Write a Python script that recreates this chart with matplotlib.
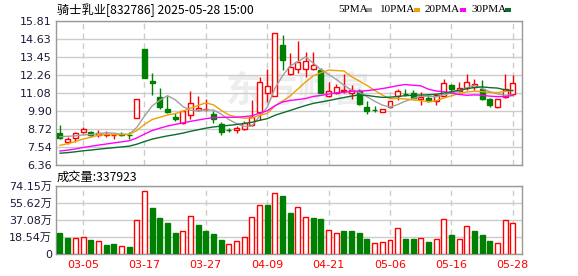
import matplotlib
matplotlib.use("Agg")
import matplotlib.pyplot as plt
from matplotlib.patches import Rectangle
import numpy as np
import pandas as pd

# trading days shown
dates = ["02-28", "03-03", "03-04", "03-05", "03-06", "03-07", "03-10", "03-11", "03-12", "03-13",
         "03-14", "03-17", "03-18", "03-19", "03-20", "03-21", "03-24", "03-25", "03-26", "03-27",
         "03-28", "03-31", "04-01", "04-02", "04-03", "04-07", "04-08", "04-09", "04-10", "04-11",
         "04-14", "04-15", "04-16", "04-17", "04-18", "04-21", "04-22", "04-23", "04-24", "04-25",
         "04-28", "04-29", "04-30", "05-06", "05-07", "05-08", "05-09", "05-12", "05-13", "05-14",
         "05-15", "05-16", "05-19", "05-20", "05-21", "05-22", "05-23", "05-26", "05-27", "05-28"]

opens = [8.44, 7.89, 8.11, 8.53, 8.53, 8.35, 8.35, 8.32, 8.38, 8.36,
         9.47, 13.97, 11.87, 10.80, 10.06, 9.53, 9.10, 9.66, 9.98, 10.02,
         9.69, 9.03, 8.66, 8.64, 8.74, 8.99, 9.82, 11.06, 10.91, 14.26,
         12.33, 12.64, 12.64, 12.64, 12.59, 10.89, 11.11, 11.22, 11.11, 11.24,
         10.15, 9.96, 9.84, 10.15, 10.89, 11.04, 11.09, 10.69, 10.78, 10.58,
         10.89, 11.61, 11.22, 11.39, 11.50, 11.35, 10.67, 10.19, 10.80, 11.00]
highs = [8.99, 8.22, 8.50, 8.85, 8.60, 8.66, 8.60, 8.44, 8.55, 8.55,
         10.72, 13.99, 12.42, 11.41, 10.89, 9.80, 9.93, 11.24, 10.91, 10.69,
         9.92, 9.20, 8.77, 8.92, 9.22, 10.63, 12.16, 12.64, 15.00, 14.89,
         13.69, 14.52, 13.76, 13.78, 12.75, 11.83, 11.68, 12.33, 11.61, 11.35,
         10.56, 10.21, 10.06, 10.58, 11.33, 11.35, 11.28, 11.17, 10.93, 11.02,
         11.98, 11.68, 11.81, 12.33, 11.98, 11.94, 10.78, 10.69, 12.33, 12.26]
lows = [8.05, 7.74, 7.90, 8.44, 8.18, 8.22, 8.20, 8.09, 8.24, 8.07,
        9.45, 12.05, 10.95, 10.02, 9.75, 9.25, 9.08, 9.40, 9.92, 9.92,
        9.10, 8.33, 8.53, 8.44, 8.66, 8.92, 9.31, 10.50, 10.91, 12.59,
        12.27, 12.42, 12.12, 12.62, 11.08, 10.80, 11.05, 11.11, 10.67, 10.30,
        9.71, 9.84, 9.82, 10.13, 10.61, 10.87, 10.67, 10.28, 10.52, 10.32,
        10.80, 11.24, 11.13, 11.28, 11.28, 10.63, 10.19, 10.12, 10.78, 10.98]
closes = [8.15, 8.07, 8.48, 8.74, 8.33, 8.44, 8.40, 8.34, 8.36, 8.33,
          10.69, 12.09, 11.72, 10.19, 9.86, 9.36, 9.90, 10.43, 10.10, 10.06,
          9.36, 8.55, 8.63, 8.79, 9.12, 9.49, 11.79, 11.54, 15.00, 13.25,
          12.77, 13.12, 13.16, 12.92, 11.11, 11.24, 11.46, 11.28, 11.25, 10.36,
          9.88, 9.94, 10.04, 10.56, 11.20, 11.00, 10.78, 10.82, 10.58, 10.93,
          11.72, 11.36, 11.40, 11.79, 11.66, 10.69, 10.32, 10.67, 11.37, 11.72]
# volume in 万 shares
volumes = [23.3, 17.4, 17.1, 18.2, 15.3, 14.2, 9.8, 10.9, 8.4, 7.3,
           37.1, 68.4, 49.8, 39.3, 33.8, 23.3, 25.1, 41.1, 31.6, 25.1,
           21.8, 15.3, 10.5, 14.2, 18.2, 40.0, 53.1, 53.1, 66.2, 63.3,
           44.7, 50.9, 40.0, 38.9, 37.8, 25.8, 22.6, 25.1, 25.1, 22.6,
           16.4, 11.6, 12.7, 14.9, 28.0, 16.4, 16.4, 17.1, 12.7, 16.0,
           37.8, 20.4, 16.0, 30.2, 25.1, 20.4, 14.2, 11.6, 36.8, 33.7923]
# closes before the window (estimated, needed for the moving averages)
prior_closes = [6.90, 6.85, 6.80, 6.88, 6.82, 6.78, 6.85, 6.90, 6.86, 6.84,
                6.88, 6.92, 6.85, 6.80, 6.86, 6.95, 6.90, 6.98, 6.92, 6.96,
                7.00, 7.05, 7.12, 7.10, 7.18, 7.90, 8.35, 8.40, 8.25]

price_ticks = [6.36, 7.54, 8.72, 9.90, 11.08, 12.26, 13.45, 14.63, 15.81]
vol_ticks = [0, 18.54, 37.08, 55.62, 74.15]
vol_labels = ["0", "18.54万", "37.08万", "55.62万", "74.15万"]
ma_periods = [5, 10, 20, 30]
ma_colors = ["#a0a0a0", "#f0a000", "#ff00ff", "#0b6e2e"]

RED = "#ff0000"
GREEN = "#008000"
GRID = "#cccccc"
EDGE = "#999999"
LABEL = "#1a1a3a"

n = len(closes)
x = np.arange(n)
o = np.array(opens); c = np.array(closes); h = np.array(highs); l = np.array(lows)
up = c >= o
prev = np.r_[prior_closes[-1], c[:-1]]
vol_up = c >= prev

all_close = pd.Series(prior_closes + closes)
mas = {p: all_close.rolling(p).mean().values[-n:] for p in ma_periods}

fig = plt.figure(figsize=(5.78, 2.76), dpi=100)
W, H = 578, 276
def fx(px): return px / W
def fy(py): return 1 - py / H

ax = fig.add_axes([fx(56), fy(165), fx(522) - fx(56), fy(21) - fy(165)])
axv = fig.add_axes([fx(56), fy(254), fx(522) - fx(56), fy(186) - fy(254)])

tick_idx = list(range(3, n, 8))
xlim = (-0.52, n + 0.2)

for a in (ax, axv):
    a.set_xlim(*xlim)
    for s in a.spines.values():
        s.set_color(EDGE)
        s.set_linewidth(1)
    a.set_xticks(tick_idx)
    a.xaxis.grid(True, color=GRID, linestyle=(0, (4, 3)), linewidth=1)
    a.yaxis.grid(True, color=GRID, linewidth=1)
    a.set_axisbelow(True)
    a.tick_params(length=0, labelsize=8, labelcolor=LABEL, pad=3)

# watermark
ax.text(31, 11.2, "东方财富", fontsize=26, color="#ededed", ha="center", va="center",
        family=["Noto Sans CJK SC", "DejaVu Sans"], fontweight="bold", zorder=0)

# price panel
ax.set_ylim(price_ticks[0], price_ticks[-1])
ax.set_yticks(price_ticks)
ax.set_yticklabels([f"{t:.2f}" for t in price_ticks])
ax.set_xticklabels([])

wick_col = np.where(up, RED, GREEN)
ax.vlines(x, l, h, colors=wick_col, linewidth=1, zorder=2)
body_bot = np.minimum(o, c)
body_h = np.maximum(np.abs(c - o), 0.03)
ax.bar(x[up], body_h[up], bottom=body_bot[up], width=0.65, facecolor="white",
       edgecolor=RED, linewidth=1, zorder=3)
ax.bar(x[~up], body_h[~up], bottom=body_bot[~up], width=0.65, facecolor=GREEN,
       edgecolor=GREEN, linewidth=1, zorder=3)

for p, col in zip(ma_periods, ma_colors):
    ax.plot(x, mas[p], color=col, linewidth=1, zorder=4)

# volume panel
v = np.array(volumes)
axv.set_ylim(0, vol_ticks[-1])
axv.set_yticks(vol_ticks)
axv.set_yticklabels(vol_labels, family=["DejaVu Sans", "Noto Sans CJK SC"])
axv.bar(x[vol_up], v[vol_up], width=0.65, facecolor="white", edgecolor=RED, linewidth=1, zorder=3)
axv.bar(x[~vol_up], v[~vol_up], width=0.65, facecolor=GREEN, edgecolor=GREEN, linewidth=1, zorder=3)
axv.set_xticklabels([dates[i] for i in tick_idx], color=RED, fontsize=8)
axv.tick_params(axis="x", pad=4, labelcolor=RED)

# header texts
cjk = ["Noto Sans CJK SC", "DejaVu Sans"]
fig.text(fx(57), fy(10), "骑士乳业[832786] 2025-05-28 15:00", fontsize=8.8, family=cjk,
         ha="left", va="center", color="#000000")
fig.text(fx(57), fy(177), f"成交量:{v[-1] * 1e4:.0f}", fontsize=8.8, family=cjk,
         ha="left", va="center", color="#000000")

leg_items = [("5PMA", 338, 366), ("10PMA", 380, 414), ("20PMA", 425, 460), ("30PMA", 471, 505)]
for (name, tx, sx), col in zip(leg_items, ma_colors):
    fig.text(fx(tx), fy(10), name, fontsize=8, family="Liberation Serif",
             ha="left", va="center", color="#000000")
    fig.patches.append(Rectangle((fx(sx), fy(12)), fx(6), 4 / H, transform=fig.transFigure,
                                 facecolor=col, edgecolor="none"))

fig.savefig("out.png", dpi=100)
